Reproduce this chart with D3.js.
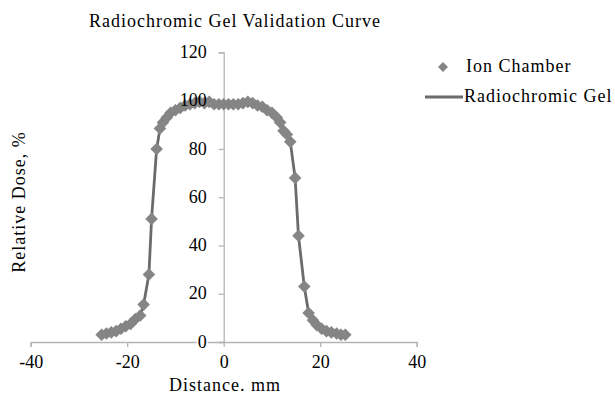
<!DOCTYPE html>
<html><head><meta charset="utf-8">
<script src="https://cdn.jsdelivr.net/npm/d3@7"></script>
<style>html,body{margin:0;padding:0;background:#fff;}svg{display:block;}text{font-family:"Liberation Serif","DejaVu Serif",serif;fill:#000;}</style>
</head><body><svg id="c" width="615" height="395"></svg>
<script>
const title = "Radiochromic Gel Validation Curve";
const xLabel = "Distance. mm";
const yLabel = "Relative Dose, %";
const seriesNames = ["Ion Chamber", "Radiochromic Gel"];
const xTicks = [-40, -20, 0, 20, 40];
const yTicks = [0, 20, 40, 60, 80, 100, 120];

const ionX = [-25.3,-24.3,-23.3,-22.3,-21.3,-20.3,-19.3,-18.3,-17.3,-16.6,-15.5,-14.95,-13.9,-13.2,-12.6,-11.8,-11,-10,-9,-8,-7,-6,-5,-4,-3,-2,-1,0,1,2,3,4,5,6,7,8,9,10,11,11.7,12.4,13.1,13.8,14.8,15.5,16.7,17.6,18.5,19.3,20.3,21.3,22.3,23.4,24.3,25.2];
const ionY = [3,3.5,4,4.5,5.5,6.5,7.5,9.5,11,15.5,28,51,80,88.5,91,93,95,96,97,98,98.5,99,99.5,99,99.5,98.5,98.5,98.5,98.5,98.5,98.5,99,99.5,99,98,97.5,96,95,93,91,87.5,86,83,68,44,23,12,9,7,5.5,4.5,4,3.5,3,3];

const gelX = [-25.3,-23.3,-21.3,-19.3,-18.3,-17.3,-16.6,-15.5,-14.95,-13.9,-13.2,-12.6,-11,-9,-7,-5,-3,0,3,5,7,9,11,12.4,13.8,14.8,15.5,16.7,17.6,19.3,21.3,23.4,25.2];
const gelY = [3,4,5.5,7.5,9.5,11,15.5,28,51,80,88.5,91,95,97,98.5,99,99,98.5,98.5,99,98,96,93,87.5,83,68,44,23,12,7,4.5,3.5,3];

const svg = d3.select("#c");
const x = d3.scaleLinear().domain([-40, 40]).range([30.7, 416.7]);
const y = d3.scaleLinear().domain([0, 120]).range([342, 52.4]);
const axisColor = "#b4b4b4";
const fmt = d => String(d); // hyphen-minus like the reference

// title
svg.append("text").attr("x", 235).attr("y", 27).attr("text-anchor", "middle")
  .style("font-size", "18px").style("letter-spacing", "1px").text(title);

// x axis
const gx = svg.append("g").attr("transform", `translate(0,${y(0)})`)
  .call(d3.axisBottom(x).tickValues(xTicks).tickSize(5).tickPadding(8).tickFormat(fmt));
gx.select(".domain").attr("stroke", axisColor).attr("stroke-width", 1.3);
gx.selectAll(".tick line").attr("stroke", axisColor).attr("stroke-width", 1.3);
gx.selectAll(".tick text").style("font-size", "18px").style("font-family", '"Liberation Serif",serif').attr("fill", "#000");

// y axis
const gy = svg.append("g").attr("transform", `translate(${x(0)},0)`)
  .call(d3.axisLeft(y).tickValues(yTicks).tickSize(5).tickPadding(12).tickFormat(fmt));
gy.select(".domain").attr("stroke", axisColor).attr("stroke-width", 1.3);
gy.selectAll(".tick line").attr("stroke", axisColor).attr("stroke-width", 1.3);
gy.selectAll(".tick text").style("font-size", "18px").style("font-family", '"Liberation Serif",serif').attr("fill", "#000");
// white background behind y tick labels
gy.selectAll(".tick").each(function() {
  const t = d3.select(this).select("text");
  const bb = t.node().getBBox();
  d3.select(this).insert("rect", "text").attr("x", bb.x - 1).attr("y", bb.y + 3).attr("width", bb.width + 2).attr("height", bb.height - 6).attr("fill", "#fff");
});
gy.selectAll(".tick text").remove();

// axis titles
svg.append("text").attr("x", 225).attr("y", 391).attr("text-anchor", "middle")
  .style("font-size", "18px").style("letter-spacing", "1px").text(xLabel);
svg.append("text").attr("transform", `translate(25,${y(58)}) rotate(-90)`).attr("text-anchor", "middle")
  .style("font-size", "18px").style("letter-spacing", "1px").text(yLabel);

// gel line
const line = d3.line().x((d, i) => x(gelX[i])).y((d, i) => y(gelY[i]));
svg.append("path").datum(gelY).attr("d", line).attr("fill", "none").attr("stroke", "#6b6b6b").attr("stroke-width", 2.8);

// diamonds
const diamond = s => `M0,${-s}L${s},0L0,${s}L${-s},0Z`;
svg.append("g").selectAll("path").data(ionY).join("path")
  .attr("transform", (d, i) => `translate(${x(ionX[i])},${y(d)})`)
  .attr("d", diamond(6.3)).attr("fill", "#858585");

// y tick labels on top
const gyl = svg.append("g").attr("transform", `translate(${x(0)},0)`);
gyl.selectAll("text").data(yTicks).join("text")
  .attr("x", -17).attr("y", d => y(d)).attr("dy", "0.32em").attr("text-anchor", "end")
  .style("font-size", "18px").text(fmt);

// legend
const lg = svg.append("g");
lg.append("path").attr("transform", "translate(443,67)").attr("d", diamond(5)).attr("fill", "#858585");
lg.append("text").attr("x", 466).attr("y", 72).style("font-size", "18px").style("letter-spacing", "1px").text(seriesNames[0]);
lg.append("line").attr("x1", 425).attr("x2", 463).attr("y1", 97).attr("y2", 97).attr("stroke", "#6b6b6b").attr("stroke-width", 2.8);
lg.append("text").attr("x", 464).attr("y", 102).style("font-size", "18px").style("letter-spacing", "1px").text(seriesNames[1]);
</script></body></html>
